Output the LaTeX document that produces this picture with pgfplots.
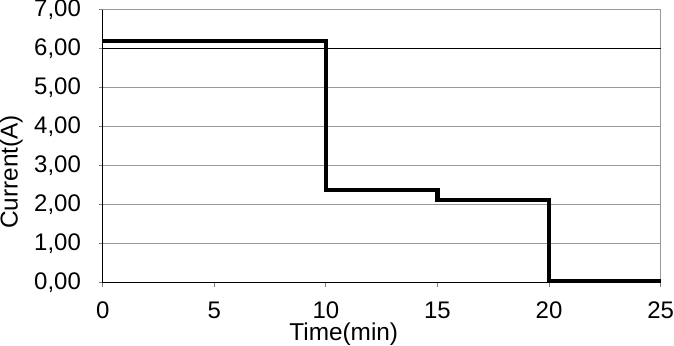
\documentclass[12pt,border=0pt]{standalone}
\usepackage{fontspec}
\setmainfont{Liberation Sans}
\usepackage{pgfplots}
\pgfplotsset{compat=1.18}
\newcommand{\tf}{\fontsize{12}{14}\selectfont}
\begin{document}
\begin{tikzpicture}
\begin{axis}[
  scale only axis,
  width=279.3pt, height=136.5pt,
  xmin=0, xmax=25, ymin=0, ymax=7,
  axis lines=left,
  axis line style={-, black, line width=0.6pt},
  xtick={0,5,10,15,20,25},
  xticklabels={{\tf 0},{\tf 5},{\tf 10},{\tf 15},{\tf 20},{\tf 25}},
  ytick={0,1,2,3,4,5,6,7},
  yticklabels={{\tf 0,00},{\tf 1,00},{\tf 2,00},{\tf 3,00},{\tf 4,00},{\tf 5,00},{\tf 6,00},{\tf 7,00}},
  tick align=outside,
  major tick length=2pt,
  tick style={gray, line width=0.5pt},
  ymajorgrids,
  major grid style={gray!80, line width=0.5pt},
  extra y ticks={6},
  extra y tick labels={},
  extra y tick style={grid=major, major grid style={black, line width=0.6pt}, tick style={draw=none}},
  extra x ticks={25},
  extra x tick labels={},
  extra x tick style={grid=major, major grid style={gray!80, line width=0.6pt}, tick style={draw=none}},
  yticklabel style={font=\tf, inner sep=0pt, xshift=-8.7pt},
  xticklabel style={font=\tf, inner sep=0pt, yshift=-7.3pt},
  label style={font=\fontsize{12.2}{14}\selectfont, inner sep=0pt},
  xlabel={Time(min)},
  ylabel={Current(A)},
  xlabel style={at={([yshift=-19.8pt]axis description cs:0.432,0)}, anchor=north},
  ylabel style={at={([xshift=-51.6pt]axis description cs:0,0.406)}, anchor=north},
  clip=false,
]
\addplot[const plot, black, line width=2.1pt] coordinates {
  (0,6.21) (10,2.37) (15,2.12) (20,0.05) (25,0.05)
};
\end{axis}
\end{tikzpicture}
\end{document}
